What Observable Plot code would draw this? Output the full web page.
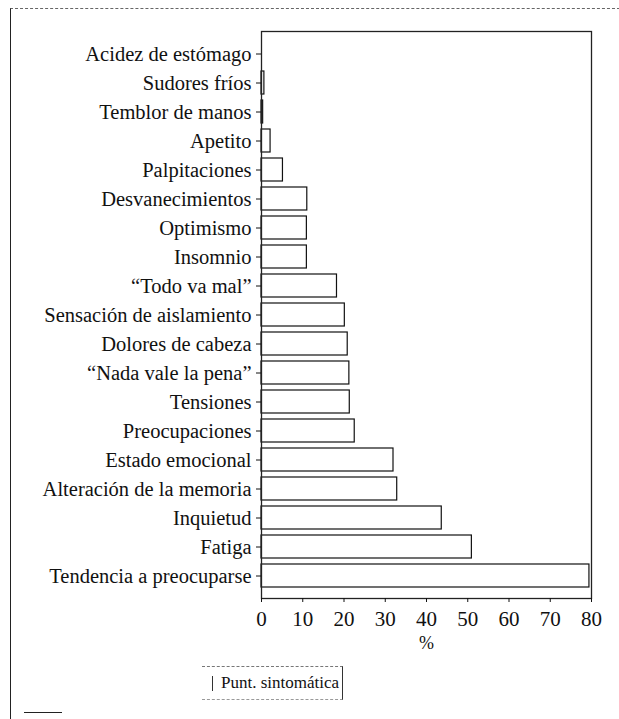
<!DOCTYPE html>
<html>
<head>
<meta charset="utf-8">
<script src="https://cdn.jsdelivr.net/npm/d3@7"></script>
<script src="https://cdn.jsdelivr.net/npm/@observablehq/plot@0.6"></script>
<style>
  html, body { margin: 0; padding: 0; background: #fff; }
  body { width: 619px; height: 719px; position: relative; overflow: hidden; font-family: "Liberation Serif", "DejaVu Serif", serif; }
  #frame { position: absolute; left: 10px; top: 8px; width: 609px; height: 711px; border-left: 1px solid #222; border-top: 1px dashed #666; }
  #chart { position: absolute; left: 0; top: 0; }
  #legend { position: absolute; left: 202px; top: 666px; width: 141px; height: 34px; border-top: 1px dashed #777; border-right: 1px solid #333; border-bottom: 1px dashed #999; box-sizing: border-box; font-size: 17px; font-family: "Liberation Serif", serif; color: #111; display: flex; align-items: center; white-space: nowrap; }
  #legend .sw { width: 1px; height: 15px; background: #333; margin-left: 10px; margin-right: 8px; flex: none; }
  #foot { position: absolute; left: 24px; top: 712px; width: 38px; border-top: 1px solid #222; }
  #chart svg, #chart svg text { font-family: "Liberation Serif", serif; }
</style>
</head>
<body>
<div id="frame"></div>
<div id="chart"></div>
<div id="legend"><span class="sw"></span><span id="legtext"></span></div>
<div id="foot"></div>
<script>
const categories = [
  "Acidez de estómago",
  "Sudores fríos",
  "Temblor de manos",
  "Apetito",
  "Palpitaciones",
  "Desvanecimientos",
  "Optimismo",
  "Insomnio",
  "“Todo va mal”",
  "Sensación de aislamiento",
  "Dolores de cabeza",
  "“Nada vale la pena”",
  "Tensiones",
  "Preocupaciones",
  "Estado emocional",
  "Alteración de la memoria",
  "Inquietud",
  "Fatiga",
  "Tendencia a preocuparse"
];
const values = [0, 0.7, 0.4, 2.2, 5.2, 11.1, 11.0, 11.0, 18.3, 20.2, 20.9, 21.3, 21.4, 22.6, 32.0, 32.9, 43.7, 51.0, 79.5];
const xTicks = [0, 10, 20, 30, 40, 50, 60, 70, 80];
const xLabel = "%";
const seriesName = "Punt. sintomática";

document.getElementById("legtext").textContent = seriesName;

const data = categories.map((c, i) => ({category: c, value: values[i]}));

const chart = Plot.plot({
  width: 619,
  height: 660,
  marginLeft: 261,
  marginRight: 28,
  marginTop: 31,
  marginBottom: 62,
  style: {fontFamily: "'Liberation Serif', serif", fontSize: "20px", color: "#111", background: "transparent"},
  x: {domain: [0, 80], label: null},
  y: {domain: categories, padding: 0.22, label: null},
  marks: [
    Plot.barX(data, {x: "value", y: "category", fill: "white", stroke: "#111", strokeWidth: 1.2}),
    Plot.frame({stroke: "#222", strokeWidth: 1.3}),
    Plot.axisX({ticks: xTicks, tickSize: 4, tickPadding: 9, fontSize: 21, fontFamily: "Liberation Serif", label: null}),
    Plot.axisY({tickSize: 5, tickPadding: 5, fontSize: 20.5, fontFamily: "Liberation Serif", label: null}),
    Plot.text([xLabel], {frameAnchor: "bottom", dy: 50, fontSize: 18, fontFamily: "Liberation Serif", text: d => d})
  ]
});
document.getElementById("chart").appendChild(chart);
</script>
</body>
</html>
